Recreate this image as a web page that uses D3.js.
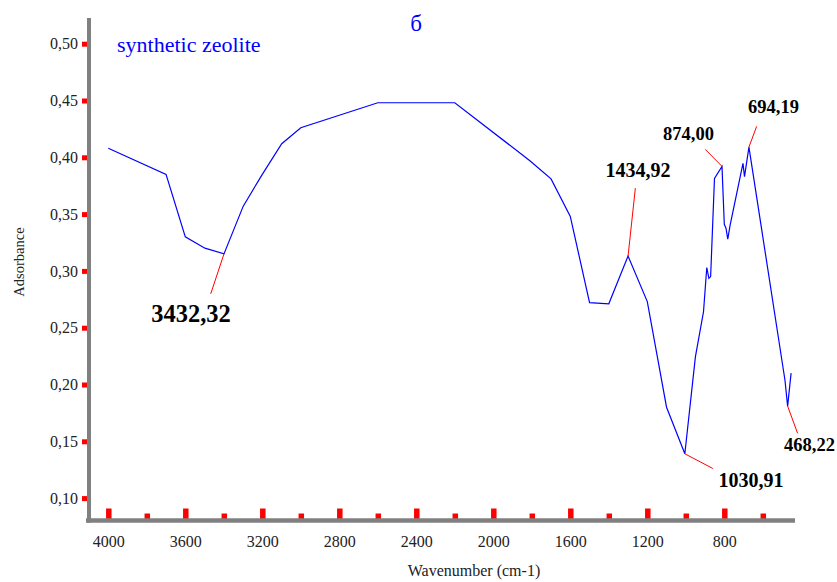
<!DOCTYPE html>
<html>
<head>
<meta charset="utf-8">
<script src="https://cdn.jsdelivr.net/npm/d3@7"></script>
<style>
  html, body { margin: 0; padding: 0; background: #fff; }
  svg { display: block; font-family: "Liberation Serif", "Times New Roman", serif; }
  svg text { font-family: "Liberation Serif", "Times New Roman", serif; }
</style>
</head>
<body>
<svg id="chart" width="837" height="582"></svg>
<script>
// ---- data ----
const wavenumbers = [4000, 3700, 3600, 3498, 3399, 3299, 3200, 3099, 3000, 2600, 2200,
  1810, 1700, 1600, 1500, 1400, 1300, 1200, 1100, 1005, 950, 908, 891, 880, 871,
  851, 812, 800, 791, 782, 770, 703, 695, 672, 485, 471, 453];
const absorbance = [0.408, 0.385, 0.330, 0.320, 0.315, 0.357, 0.385, 0.412, 0.426, 0.448, 0.448,
  0.397, 0.381, 0.348, 0.272, 0.271, 0.313, 0.273, 0.180, 0.139, 0.2245, 0.264, 0.303, 0.2935, 0.295,
  0.3815, 0.392, 0.341, 0.3375, 0.328, 0.340, 0.3947, 0.383, 0.409, 0.204, 0.181, 0.210];

const xMajorTicks = [4000, 3600, 3200, 2800, 2400, 2000, 1600, 1200, 800];
const xMinorTicks = [3800, 3400, 3000, 2600, 2200, 1800, 1400, 1000, 600];
const yTicks = [0.10, 0.15, 0.20, 0.25, 0.30, 0.35, 0.40, 0.45, 0.50];
const yTickLabels = ["0,10", "0,15", "0,20", "0,25", "0,30", "0,35", "0,40", "0,45", "0,50"];

// peak annotations: label text + index of annotated data point
const peakLabels = ["3432,32", "1434,92", "874,00", "694,19", "1030,91", "468,22"];
const peakIndex = [4, 16, 26, 33, 19, 35];

const titleText = "б";
const seriesName = "synthetic zeolite";
const xTitle = "Wavenumber (cm-1)";
const yTitle = "Adsorbance";

// ---- layout (pixel offsets for annotations, kept separate from data) ----
const peakLayout = [
  { ldx: -13.3, ldy: 40,   tx: 191,   ty: 322, fs: 24.5 },
  { ldx: 7.3,   ldy: -68,  tx: 638,   ty: 177, fs: 20 },
  { ldx: -16.7, ldy: -17,  tx: 688.5, ty: 140, fs: 18.5 },
  { ldx: 7.7,   ldy: -20.7,tx: 773.5, ty: 113, fs: 18.5 },
  { ldx: 28,    ldy: 14.7, tx: 751,   ty: 487, fs: 20 },
  { ldx: 10,    ldy: 27.3, tx: 809.5, ty: 451, fs: 18.5 }
];

const FONT = "'Liberation Serif', 'Times New Roman', serif";
const svg = d3.select("#chart");

const x = d3.scaleLinear().domain([4000, 800]).range([108.3, 724.3]);
const y = d3.scaleLinear().domain([0.5, 0.1]).range([43.7, 498.1]);

const axisY0 = 520.5;  // x-axis line
const axisX0 = 89;     // y-axis line

// x minor ticks
const gMinor = svg.append("g").attr("transform", `translate(0,${axisY0 - 1})`)
  .call(d3.axisBottom(x).tickValues(xMinorTicks).tickSize(-6).tickFormat(""));
gMinor.select(".domain").remove();
gMinor.selectAll(".tick line").attr("stroke", "#ff0000").attr("stroke-width", 5.5);

// x major ticks
const gMajor = svg.append("g").attr("transform", `translate(0,${axisY0 - 1})`)
  .attr("font-family", FONT)
  .call(d3.axisBottom(x).tickValues(xMajorTicks).tickSize(-11).tickPadding(16)
    .tickFormat(d => String(d)));
gMajor.attr("font-family", FONT).attr("font-size", 16);
gMajor.select(".domain").remove();
gMajor.selectAll(".tick line").attr("stroke", "#ff0000").attr("stroke-width", 5.5);
gMajor.selectAll(".tick text").attr("fill", "#222").attr("font-size", 16).attr("font-family", FONT);

// y ticks
const gY = svg.append("g").attr("transform", `translate(${axisX0 - 1},0)`)
  .call(d3.axisLeft(y).tickValues(yTicks).tickSize(6).tickPadding(4)
    .tickFormat((d, i) => yTickLabels[i]));
gY.attr("font-family", FONT).attr("font-size", 16);
gY.select(".domain").remove();
gY.selectAll(".tick line").attr("stroke", "#ff0000").attr("stroke-width", 5);
gY.selectAll(".tick text").attr("fill", "#222").attr("font-size", 16).attr("font-family", FONT);

// gray frame axes
svg.append("line").attr("x1", 86).attr("x2", 795).attr("y1", axisY0).attr("y2", axisY0)
  .attr("stroke", "#808080").attr("stroke-width", 4.4);
svg.append("line").attr("x1", axisX0).attr("x2", axisX0).attr("y1", 18).attr("y2", axisY0 + 2.2)
  .attr("stroke", "#808080").attr("stroke-width", 4);

// spectrum line
const pts = wavenumbers.map((w, i) => [w, absorbance[i]]);
svg.append("path")
  .datum(pts)
  .attr("fill", "none")
  .attr("stroke", "#0000ff")
  .attr("stroke-width", 1.2)
  .attr("stroke-linejoin", "miter")
  .attr("d", d3.line().x(d => x(d[0])).y(d => y(d[1])));

// annotations
peakLabels.forEach((lab, i) => {
  const p = pts[peakIndex[i]];
  const L = peakLayout[i];
  const px = x(p[0]), py = y(p[1]);
  svg.append("line").attr("x1", px).attr("y1", py)
    .attr("x2", px + L.ldx).attr("y2", py + L.ldy)
    .attr("stroke", "#ff0000").attr("stroke-width", 1);
  svg.append("text").attr("x", L.tx).attr("y", L.ty)
    .attr("text-anchor", "middle").attr("font-weight", "bold").attr("font-family", FONT)
    .attr("font-size", L.fs).attr("fill", "#000").text(lab);
});

// texts
svg.append("text").attr("x", 416).attr("y", 31).attr("text-anchor", "middle").attr("font-family", FONT)
  .attr("font-size", 23).attr("fill", "#0000ff").text(titleText);
svg.append("text").attr("x", 117).attr("y", 51.5).attr("font-family", FONT)
  .attr("font-size", 22).attr("fill", "#0000ff").text(seriesName);
svg.append("text").attr("x", 474).attr("y", 576).attr("text-anchor", "middle").attr("font-family", FONT)
  .attr("font-size", 16).attr("fill", "#222").text(xTitle);
svg.append("text").attr("transform", "translate(24,262) rotate(-90)").attr("font-family", FONT)
  .attr("text-anchor", "middle").attr("font-size", 14.5).attr("fill", "#222").text(yTitle);
</script>
</body>
</html>
